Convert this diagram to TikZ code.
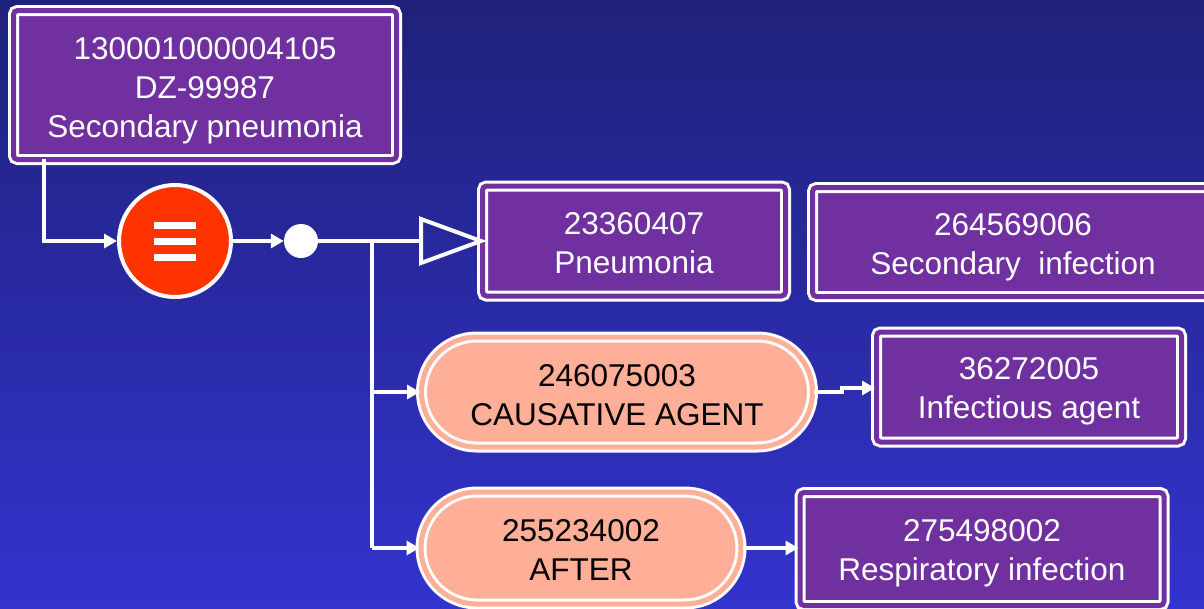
\documentclass[tikz,border=0pt]{standalone}
\usepackage{fontspec}
\setmainfont{Liberation Sans}
\usetikzlibrary{arrows.meta,shapes.misc,calc}
\definecolor{bgtop}{RGB}{31,33,122}
\definecolor{bgbot}{RGB}{51,51,206}
\definecolor{boxpurple}{RGB}{112,48,160}
\definecolor{salmon}{RGB}{255,174,152}
\definecolor{redop}{RGB}{255,51,0}
\newcommand\topstrut[1][33pt]{\rule{0pt}{#1}\ignorespaces}
\tikzset{
  lbl/.style={font=\fontsize{31.5}{39}\selectfont, align=center},
  conceptbox/.style={rectangle, lbl, text=white, fill=boxpurple, draw=white,
    double=boxpurple, double distance=5pt, line width=3pt, rounded corners=4pt, inner sep=0pt},
  relpill/.style={rounded rectangle, lbl, text=black, fill=salmon, draw=white,
    double=salmon, double distance=5pt, line width=3pt, inner sep=0pt},
  conn/.style={draw=white, line width=3.5pt},
  arr/.style={conn, -{Triangle[length=13pt,width=14pt]}},
}
\begin{document}
\begin{tikzpicture}[x=1pt,y=-1pt]
\shade[top color=bgtop, bottom color=bgbot] (0,0) rectangle (1204,608);
\useasboundingbox (0,0) rectangle (1204,608);

% concept boxes
\node[conceptbox, minimum width=383pt, minimum height=149pt] (b1) at (205,85)
  {\topstrut 130001000004105\\DZ-99987\\Secondary pneumonia};
\node[conceptbox, minimum width=303pt, minimum height=110pt] (pn) at (634,241)
  {\topstrut[26pt]23360407\\Pneumonia};
\node[conceptbox, minimum width=401pt, minimum height=109pt] (si) at (1013,242)
  {\topstrut 264569006\\Secondary~~infection};
\node[conceptbox, minimum width=305pt, minimum height=110pt] (ia) at (1029,387)
  {\topstrut[30pt]36272005\\Infectious agent};
\node[conceptbox, minimum width=364pt, minimum height=113pt] (ri) at (982,549)
  {\topstrut[30pt]275498002\\Respiratory infection};

% relationship pills
\node[relpill, minimum width=391pt, minimum height=110pt] (ca) at (617,392)
  {\topstrut[29pt]246075003\\CAUSATIVE AGENT};
\node[relpill, minimum width=320pt, minimum height=112pt] (af) at (581,548)
  {\topstrut[26pt]255234002\\AFTER};

% equivalence operator
\node[circle, fill=redop, draw=white, line width=4pt, minimum size=112pt, inner sep=0pt] (eq) at (175,241) {};
\foreach \dy in {-16,0,16}
  \fill[white] ($(eq.center)+(-21,\dy-3.5)$) rectangle ($(eq.center)+(21,\dy+3.5)$);

% conjunction dot
\node[circle, fill=white, minimum size=34pt, inner sep=0pt] (dot) at (301,241) {};

% connectors
\coordinate (b1out) at (44,159);
\draw[arr] (b1out) |- (eq.west);
\draw[arr] (eq.east) -- (dot.west);
\coordinate (tb) at ($(pn.west)+(-60,0)$);
\coordinate (jn) at (372,241);
\draw[conn] (dot.east) -- (tb);
\draw[white, line width=4pt, line join=miter] (pn.west) -- ($(pn.west)+(-60,-22)$) -- ($(pn.west)+(-60,22)$) -- cycle;
\draw[conn] (jn) -- (jn |- af.west);
\draw[arr] (jn |- ca.west) -- (ca.west);
\draw[arr] (jn |- af.west) -- (af.west);
\draw[arr] (ca.east) -- ++(28,0) -- ++(0,-4) -- (ia.west |- 0,388);
\draw[arr] (af.east) -- (ri.west |- af.east);
\end{tikzpicture}
\end{document}
